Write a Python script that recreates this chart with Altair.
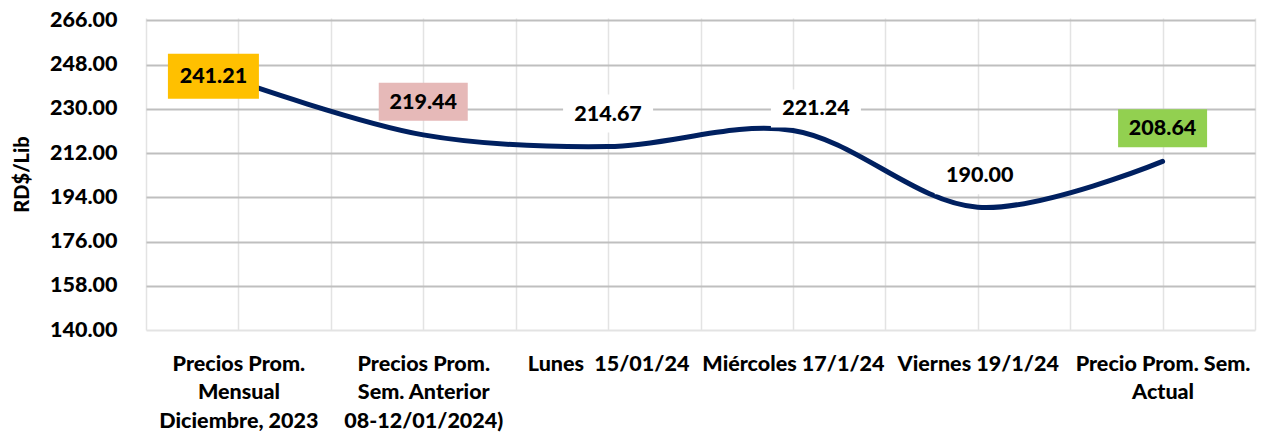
import altair as alt
import pandas as pd
import json

# ---- data ----
cat_lines = [
    ["Precios Prom.", "Mensual", "Diciembre, 2023"],
    ["Precios Prom.", "Sem. Anterior", "08-12/01/2024)"],
    ["Lunes\u00a0 15/01/24"],
    ["Miércoles 17/1/24"],
    ["Viernes 19/1/24"],
    ["Precio Prom. Sem.", "Actual"],
]
prices = [241.21, 219.44, 214.67, 221.24, 190.00, 208.64]
y_ticks = [140, 158, 176, 194, 212, 230, 248, 266]

# ---- label styling (fill, x offset, y offset, box w, box h) ----
label_styles = [
    ("#FFC000", -25, -5, 91, 45),
    ("#E6B9B8", 0, -33, 89, 38),
    ("#FFFFFF", 0, -33, 90, 38),
    ("#FFFFFF", 23, -22, 90, 38),
    ("#FFFFFF", 2, -32, 90, 38),
    ("#92D050", 0, -33, 89, 38),
]

df = pd.DataFrame({"idx": list(range(len(prices))), "price": prices})

FONT = "Lato"
FS = 21.5
FW = 900

label_js = json.dumps(cat_lines, ensure_ascii=False)
x_enc = alt.X(
    "idx:Q",
    scale=alt.Scale(domain=[-0.5, len(prices) - 0.5], nice=False, zero=False),
    axis=alt.Axis(
        values=[k * 0.5 - 0.5 for k in range(2 * len(prices) + 1)],
        labelExpr=f"datum.value % 1 === 0 ? {label_js}[datum.value] : ''",
        title=None,
        grid=True,
        gridColor="#e3e3e3",
        gridWidth=1.5,
        domain=False,
        ticks=False,
        tickSize=0,
        labelPadding=23,
        labelFontSize=FS,
        labelLineHeight=28.5,
        labelBaseline="top",
        labelOverlap=False,
        labelFlush=False,
        labelBound=False,
        labelLimit=400,
    ),
)
y_enc = alt.Y(
    "price:Q",
    scale=alt.Scale(domain=[140, 267], nice=False, zero=False),
    axis=alt.Axis(
        values=y_ticks,
        format=".2f",
        title="RD$/Lib",
        titleFontSize=20,
        titlePadding=17,
        grid=True,
        gridColor={"condition": {"test": "datum.value === 140", "value": "#e3e3e3"}, "value": "#bfbfbf"},
        gridWidth=2,
        domain=False,
        ticks=False,
        tickSize=0,
        labelPadding=29,
        labelFontSize=FS,
    ),
)

base = alt.Chart(df).encode(x=x_enc, y=y_enc)

line = base.mark_line(
    interpolate="catmull-rom", color="#002060", strokeWidth=5, strokeCap="round"
)

layers = [line]
for i, (fill, dx, dy, w, h) in enumerate(label_styles):
    hh = h / w
    path = f"M-1,{-hh:.4f}H1V{hh:.4f}H-1Z"
    sub = base.transform_filter(f"datum.idx == {i}")
    layers.append(
        sub.mark_point(
            shape=path, size=w * w, filled=True, fill=fill, opacity=1,
            strokeWidth=0, xOffset=dx, yOffset=dy,
        )
    )
    layers.append(
        sub.mark_text(
            font=FONT, fontSize=FS, fontWeight=FW, color="#000000",
            xOffset=dx, yOffset=dy + 1, baseline="middle", align="center",
        ).encode(text=alt.Text("price:Q", format=".2f"))
    )

chart = (
    alt.layer(*layers)
    .properties(
        width=1109,
        height=312,
        autosize=alt.AutoSizeParams(type="none"),
        padding={"left": 138, "top": 10, "right": 2, "bottom": 104},
    )
    .configure_view(stroke=None)
    .configure_axis(
        labelFont=FONT, labelFontWeight=FW, labelColor="#000000",
        titleFont=FONT, titleFontWeight=FW, titleColor="#000000",
    )
)

chart.save("out.html", embed_options={"renderer": "svg", "actions": False})
